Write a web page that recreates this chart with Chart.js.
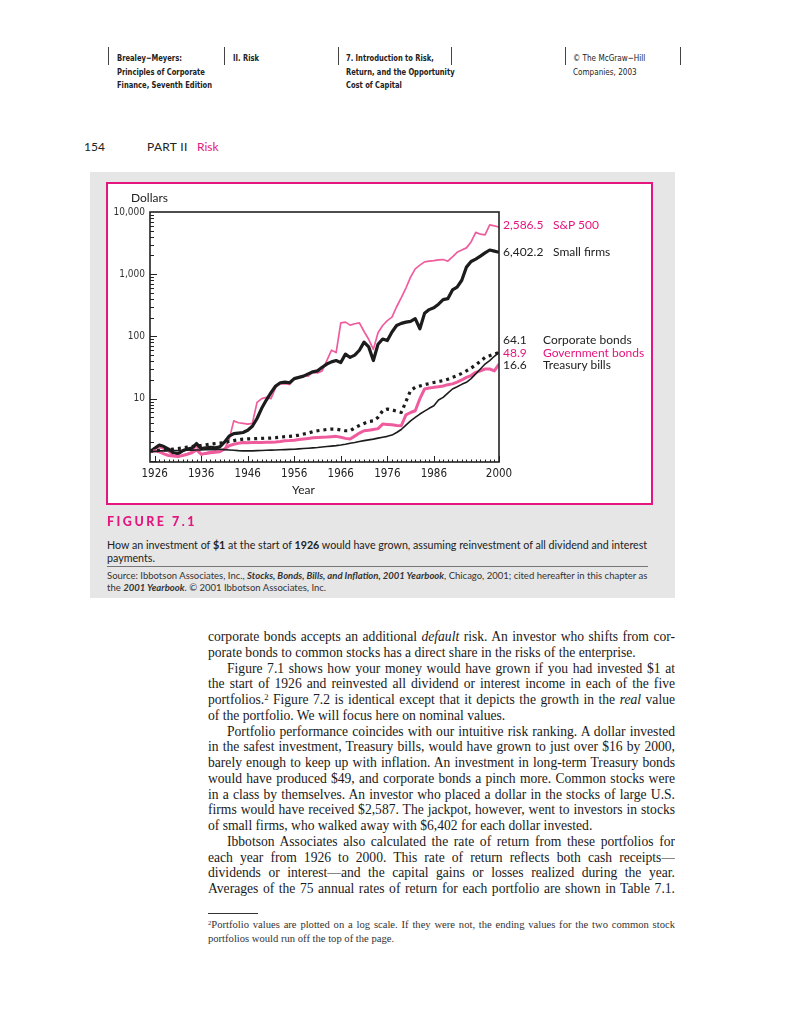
<!DOCTYPE html>
<html>
<head>
<meta charset="utf-8">
<script src="https://cdn.jsdelivr.net/npm/chart.js@4.4.1/dist/chart.umd.min.js"></script>
<style>
  html, body { margin: 0; padding: 0; background: #fff; }
  body { width: 791px; height: 1024px; position: relative; overflow: hidden; color: #222; }
  .abs { position: absolute; white-space: nowrap; }
  .hdr { font-family: 'Liberation Sans Narrow', 'DejaVu Sans Condensed', sans-serif; font-size: 9.5px; line-height: 13.5px; font-weight: bold; color: #222; transform: scaleX(0.79); transform-origin: left top; }
  .hdr.light { font-weight: normal; transform: scaleX(0.85); }
  .vline { position: absolute; top: 47px; height: 18px; width: 1px; background: #444; }
  .sans { font-family: Lato, 'Open Sans', sans-serif; }
  .pink { color: #e4157f; }
  #panel { position: absolute; left: 90px; top: 172px; width: 585px; height: 426px; background: #e6e6e6; }
  #box { position: absolute; left: 106px; top: 182px; width: 547px; height: 323px; border: 2px solid #e4157f; box-sizing: border-box; background: #fff; }
  #c { position: absolute; left: 108px; top: 184px; }
  .lab { position: absolute; font-family: Lato, 'Open Sans', sans-serif; font-size: 12px; line-height: 12px; white-space: nowrap; }
  .body { position: absolute; left: 208px; top: 629px; width: 467px; font-family: 'Liberation Serif', 'DejaVu Serif', serif; font-size: 13.6px; color: #1a1a1a; }
  .ln { height: 15.75px; line-height: 15.75px; overflow: hidden; text-align: justify; text-align-last: justify; }
  .ln.end { text-align-last: left; }
  .ln.ind { text-indent: 19px; }
  sup { font-size: 0.62em; position: relative; top: -0.5em; vertical-align: 0; line-height: 0; }
  .fn { position: absolute; left: 208px; top: 918px; width: 467px; font-family: 'Liberation Serif', 'DejaVu Serif', serif; font-size: 10.6px; color: #333; }
  .fn .ln { height: 13.5px; line-height: 13.5px; }
</style>
</head>
<body>

<!-- page header -->
<div class="vline" style="left:108px"></div>
<div class="vline" style="left:224px"></div>
<div class="vline" style="left:338px"></div>
<div class="vline" style="left:451px"></div>
<div class="vline" style="left:565px"></div>
<div class="vline" style="left:680px"></div>
<div class="abs hdr" style="left:117px; top:51px">Brealey−Meyers:<br>Principles of Corporate<br>Finance, Seventh Edition</div>
<div class="abs hdr" style="left:233px; top:51px">II. Risk</div>
<div class="abs hdr" style="left:346px; top:51px">7. Introduction to Risk,<br>Return, and the Opportunity<br>Cost of Capital</div>
<div class="abs hdr light" style="left:573px; top:51px">© The McGraw−Hill<br>Companies, 2003</div>

<div class="abs sans" style="left:84px; top:139px; font-size:12px">154</div>
<div class="abs sans" style="left:147px; top:139px; font-size:12px; letter-spacing:0.3px">PART II</div>
<div class="abs sans pink" style="left:197px; top:139px; font-size:12px">Risk</div>

<!-- figure panel -->
<div id="panel"></div>
<div id="box"></div>
<canvas id="c" width="540" height="318"></canvas>
<div class="lab" style="left:131px; top:192px; font-size:12px">Dollars</div>
<div class="lab" style="left:292px; top:484px; font-size:12px">Year</div>

<div class="lab pink" style="left:503px; top:219px">2,586.5</div>
<div class="lab pink" style="left:553px; top:219px">S&amp;P 500</div>
<div class="lab" style="left:503px; top:246px">6,402.2</div>
<div class="lab" style="left:553px; top:246px">Small firms</div>
<div class="lab" style="left:503px; top:334px">64.1</div>
<div class="lab" style="left:543px; top:334px">Corporate bonds</div>
<div class="lab pink" style="left:503px; top:347px">48.9</div>
<div class="lab pink" style="left:543px; top:347px">Government bonds</div>
<div class="lab" style="left:503px; top:359px">16.6</div>
<div class="lab" style="left:543px; top:359px">Treasury bills</div>

<div class="abs sans pink" style="left:107px; top:514px; font-size:12.5px; font-weight:900; letter-spacing:2.5px">FIGURE 7.1</div>
<div class="abs sans" style="left:107px; top:538px; font-size:10.7px; line-height:13px; color:#222">How an investment of <b>$1</b> at the start of <b>1926</b> would have grown, assuming reinvestment of all dividend and interest<br>payments.</div>
<div class="abs" style="left:107px; top:566px; width:541px; height:1px; background:#777"></div>
<div class="abs sans" style="left:107px; top:570px; font-size:9.5px; line-height:11.5px; color:#333">Source: Ibbotson Associates, Inc., <b><i>Stocks, Bonds, Bills, and Inflation, 2001 Yearbook</i></b>, Chicago, 2001; cited hereafter in this chapter as<br>the <b><i>2001 Yearbook</i></b>. © 2001 Ibbotson Associates, Inc.</div>

<!-- body text -->
<div class="body">
  <div class="ln">corporate bonds accepts an additional <i>default</i> risk. An investor who shifts from cor-</div>
  <div class="ln end">porate bonds to common stocks has a direct share in the risks of the enterprise.</div>
  <div class="ln ind">Figure 7.1 shows how your money would have grown if you had invested $1 at</div>
  <div class="ln">the start of 1926 and reinvested all dividend or interest income in each of the five</div>
  <div class="ln">portfolios.<sup>2</sup> Figure 7.2 is identical except that it depicts the growth in the <i>real</i> value</div>
  <div class="ln end">of the portfolio. We will focus here on nominal values.</div>
  <div class="ln ind">Portfolio performance coincides with our intuitive risk ranking. A dollar invested</div>
  <div class="ln">in the safest investment, Treasury bills, would have grown to just over $16 by 2000,</div>
  <div class="ln">barely enough to keep up with inflation. An investment in long-term Treasury bonds</div>
  <div class="ln">would have produced $49, and corporate bonds a pinch more. Common stocks were</div>
  <div class="ln">in a class by themselves. An investor who placed a dollar in the stocks of large U.S.</div>
  <div class="ln">firms would have received $2,587. The jackpot, however, went to investors in stocks</div>
  <div class="ln end">of small firms, who walked away with $6,402 for each dollar invested.</div>
  <div class="ln ind">Ibbotson Associates also calculated the rate of return from these portfolios for</div>
  <div class="ln">each year from 1926 to 2000. This rate of return reflects both cash receipts—</div>
  <div class="ln">dividends or interest—and the capital gains or losses realized during the year.</div>
  <div class="ln">Averages of the 75 annual rates of return for each portfolio are shown in Table 7.1.</div>
</div>
<div class="abs" style="left:208px; top:913px; width:50px; height:1px; background:#333"></div>
<div class="fn">
  <div class="ln"><sup>2</sup>Portfolio values are plotted on a log scale. If they were not, the ending values for the two common stock</div>
  <div class="ln end">portfolios would run off the top of the page.</div>
</div>

<script>
// year-end values of $1 invested at the start of 1926
const years = [1925, 1926, 1927, 1928, 1929, 1930, 1931, 1932, 1933, 1934, 1935, 1936, 1937, 1938, 1939,
  1940, 1941, 1942, 1943, 1944, 1945, 1946, 1947, 1948, 1949, 1950, 1951, 1952, 1953, 1954, 1955, 1956,
  1957, 1958, 1959, 1960, 1961, 1962, 1963, 1964, 1965, 1966, 1967, 1968, 1969, 1970, 1971, 1972, 1973,
  1974, 1975, 1976, 1977, 1978, 1979, 1980, 1981, 1982, 1983, 1984, 1985, 1986, 1987, 1988, 1989, 1990,
  1991, 1992, 1993, 1994, 1995, 1996, 1997, 1998, 1999, 2000];

const sp500 = [1.40, 1.55, 1.65, 1.55, 1.40, 1.22, 1.18, 1.20, 1.30, 1.40, 1.75, 1.25, 1.35, 1.40, 1.45,
  1.40, 1.55, 2.2, 4.4, 4.1, 4.0, 3.9, 4.0, 8.7, 10.0, 10.5, 10.0, 15.2, 17.3, 17.5, 17.0, 20.8,
  22, 23.5, 23, 26.5, 26, 28, 41, 60, 55, 165, 170, 152, 160, 165, 120, 90, 62,
  115, 150, 180, 204, 300, 420, 600, 900, 1220, 1400, 1580, 1620, 1650, 1700, 1720, 1620, 1900,
  2250, 2450, 2650, 3300, 4700, 4400, 4300, 6200, 6000, 5700];

const smallFirms = [1.40, 1.60, 1.80, 1.70, 1.55, 1.35, 1.30, 1.45, 1.55, 1.60, 1.90, 1.58, 1.62, 1.65, 1.62,
  1.68, 2.0, 2.5, 2.75, 2.8, 2.86, 3.1, 3.6, 4.8, 7.0, 9.5, 12.5, 16, 18, 18.5, 18, 21,
  22, 23, 25, 27, 28, 32, 36, 39, 41, 38, 52, 46, 50, 60, 81, 68, 41,
  75, 91, 86, 118, 150, 162, 170, 175, 193, 133, 235, 270, 290, 330, 390, 405, 560,
  620, 800, 1300, 1600, 1750, 1950, 2200, 2450, 2350, 2250];

const corporateBonds = [1.45, 1.45, 1.48, 1.50, 1.52, 1.55, 1.58, 1.62, 1.66, 1.70, 1.75, 1.78, 1.82, 1.86, 1.90,
  1.93, 1.97, 2.05, 2.12, 2.18, 2.24, 2.26, 2.27, 2.28, 2.30, 2.32, 2.33, 2.36, 2.40, 2.45, 2.48, 2.52,
  2.60, 2.70, 2.80, 2.95, 3.05, 3.12, 3.20, 3.24, 3.24, 3.15, 3.05, 3.05, 3.40, 3.70, 4.0, 4.3, 4.4,
  5.0, 6.4, 6.8, 6.6, 6.3, 6.0, 9.0, 13.5, 15.2, 16, 16.8, 17.5, 18.2, 18.8, 19.5, 20.5, 22,
  23.5, 25.5, 28, 31, 35, 40, 46, 49, 52, 55];

const governmentBonds = [1.40, 1.45, 1.40, 1.30, 1.22, 1.20, 1.18, 1.22, 1.28, 1.35, 1.50, 1.28, 1.32, 1.35, 1.38,
  1.40, 1.55, 1.75, 1.85, 1.92, 1.97, 1.95, 1.97, 1.98, 1.98, 2.0, 2.0, 2.02, 2.05, 2.10, 2.12, 2.15,
  2.2, 2.25, 2.3, 2.35, 2.38, 2.40, 2.42, 2.45, 2.48, 2.40, 2.30, 2.24, 2.50, 2.80, 3.05, 3.10, 3.20,
  3.30, 3.90, 3.85, 3.80, 3.70, 3.67, 5.5, 6.0, 6.4, 10, 14.3, 14.8, 15.2, 15.5, 16.0, 16.8, 17.3,
  18.5, 20, 22, 23.5, 26.5, 28, 30, 30, 28, 36];

const treasuryBills = [1.40, 1.42, 1.45, 1.45, 1.46, 1.46, 1.46, 1.47, 1.48, 1.49, 1.50, 1.50, 1.51, 1.52, 1.53,
  1.54, 1.52, 1.50, 1.48, 1.46, 1.45, 1.45, 1.45, 1.46, 1.47, 1.48, 1.49, 1.50, 1.51, 1.52, 1.53, 1.54,
  1.56, 1.58, 1.60, 1.62, 1.64, 1.67, 1.70, 1.73, 1.76, 1.80, 1.85, 1.92, 1.97, 2.05, 2.12, 2.18, 2.24,
  2.32, 2.40, 2.48, 2.60, 2.86, 3.20, 3.76, 4.4, 5.0, 5.66, 6.3, 7.0, 7.7, 9.5, 10.5, 12.3, 14.3,
  15.5, 17, 18.3, 21, 25, 30, 36, 41, 48, 55];

const yearTicks = [1926, 1936, 1946, 1956, 1966, 1976, 1986, 2000];
const dollarTicks = [10, 100, 1000, 10000];

const PINK_LINE = '#ef5c9e';
const INK = '#1c1c1c';
const NARROW = "'Liberation Sans Narrow', 'DejaVu Sans Condensed', sans-serif";

function series(values) {
  return years.map((yr, i) => ({ x: yr, y: values[i] }));
}

// plot frame plus the small inward tick marks of the original
const frameAndTicks = {
  id: 'frameAndTicks',
  afterDatasetsDraw(chart) {
    const { ctx, chartArea: a, scales: { x, y } } = chart;
    ctx.save();
    ctx.strokeStyle = '#222';
    ctx.lineWidth = 1;
    ctx.beginPath();
    [1, 10, 100, 1000].forEach(d => {
      for (let m = 1; m <= 9; m++) {
        const py = Math.round(y.getPixelForValue(d * m)) + 0.5;
        if (py > a.bottom || py < a.top) continue;
        const len = m === 1 ? 7 : 4;
        ctx.moveTo(a.left, py);
        ctx.lineTo(a.left + len, py);
      }
    });
    for (let yr = x.min + 1; yr <= x.max; yr++) {
      const px = Math.round(x.getPixelForValue(yr)) + 0.5;
      const len = yearTicks.includes(yr) ? 6 : 2.5;
      ctx.moveTo(px, a.bottom);
      ctx.lineTo(px, a.bottom - len);
    }
    ctx.stroke();
    ctx.lineWidth = 1.6;
    ctx.strokeRect(a.left, a.top, a.right - a.left, a.bottom - a.top);
    ctx.restore();
  }
};

new Chart(document.getElementById('c'), {
  type: 'line',
  data: {
    datasets: [
      { label: 'Treasury bills', data: series(treasuryBills), borderColor: INK, borderWidth: 1.6 },
      { label: 'Corporate bonds', data: series(corporateBonds), borderColor: INK, borderWidth: 3.2,
        borderDash: [3, 4], borderCapStyle: 'butt' },
      { label: 'Government bonds', data: series(governmentBonds), borderColor: PINK_LINE, borderWidth: 3 },
      { label: 'Small firms', data: series(smallFirms), borderColor: INK, borderWidth: 3.2 },
      { label: 'S&P 500', data: series(sp500), borderColor: PINK_LINE, borderWidth: 1.7 }
    ]
  },
  options: {
    responsive: false,
    animation: false,
    layout: { padding: { left: 0, top: 28, right: 149, bottom: 0 } },
    elements: { point: { radius: 0 }, line: { tension: 0, fill: false, borderJoinStyle: 'round' } },
    plugins: { legend: { display: false }, tooltip: { enabled: false } },
    scales: {
      x: {
        type: 'linear', min: 1925, max: 2000,
        grid: { display: false, drawTicks: false }, border: { display: false },
        afterBuildTicks: s => { s.ticks = yearTicks.map(v => ({ value: v })); },
        afterFit: s => { s.height = 40; },
        ticks: { autoSkip: false, maxRotation: 0, padding: 5, color: '#222',
          font: { family: NARROW, size: 11.5 }, callback: v => String(v) }
      },
      y: {
        type: 'logarithmic', min: 0.96, max: 10000,
        grid: { display: false, drawTicks: false }, border: { display: false },
        afterBuildTicks: s => { s.ticks = dollarTicks.map(v => ({ value: v })); },
        afterFit: s => { s.width = 42; },
        ticks: { padding: 5, color: '#333', font: { family: NARROW, size: 10 },
          callback: v => Number(v).toLocaleString('en-US') }
      }
    }
  },
  plugins: [frameAndTicks]
});
</script>
</body>
</html>
